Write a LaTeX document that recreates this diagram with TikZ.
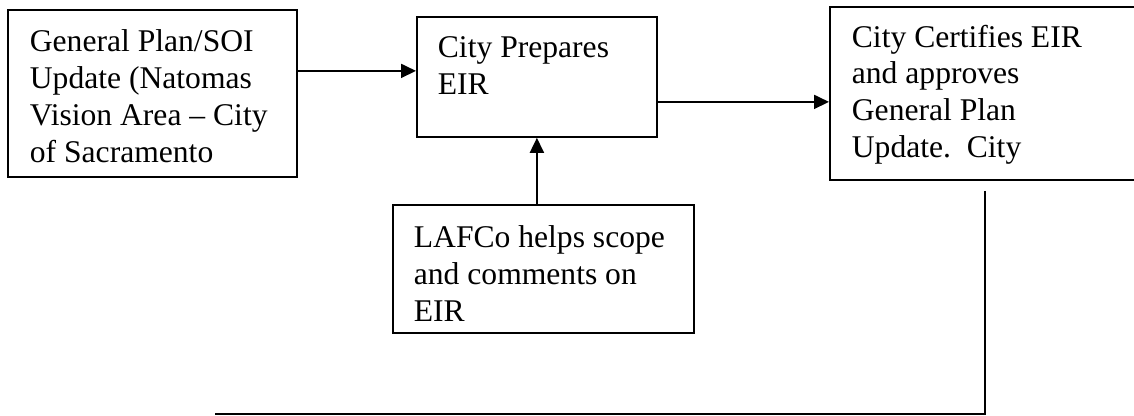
\documentclass[tikz,border=0pt]{standalone}
\usepackage{fontspec}
\setmainfont{Liberation Serif}
\usetikzlibrary{arrows.meta}

\begin{document}
\begin{tikzpicture}[x=0.5pt, y=-0.5pt]
  \tikzset{bx/.style={draw, line width=0.9pt, anchor=north west, inner xsep=10.5pt, font=\fontsize{15.8pt}{18.4pt}\selectfont},
    arr/.style={-{Triangle[length=7.5pt, width=7pt]}, line width=0.9pt}}
\clip (0,0) rectangle (1134,416);
\node[bx, inner xsep=11pt, inner ysep=10pt] (plan) at (7,9) {\parbox[t][63.5pt][t]{122.5pt}{General Plan/SOI\\Update (Natomas\\Vision Area -- City\\of Sacramento}};
\node[bx, inner ysep=10pt] (eir) at (416,16) {\parbox[t][40pt][t]{99pt}{City Prepares\\EIR}};
\node[bx, inner xsep=11pt, inner ysep=9pt] (cert) at (829,6) {\parbox[t][68.5pt][t]{133pt}{City Certifies EIR\\and approves\\General Plan\\Update.\ \ City}};
\node[bx, inner ysep=10.5pt] (lafco) at (392,204) {\parbox[t][43pt][t]{129.5pt}{LAFCo helps scope\\and comments on\\EIR}};
\draw[arr] ([yshift=11.25pt]plan.east) -- ([yshift=11.25pt]plan.east -| eir.west);
\draw[arr] ([yshift=-12.5pt]eir.east) -- ([yshift=-12.5pt]eir.east -| cert.west);
\draw[arr] (lafco.north -| eir.south) -- (eir.south);
% line back from the certified plan
\coordinate (stop) at (215,414);
\draw[line width=0.9pt] ([yshift=-5pt]cert.south) -- (cert.south |- stop) -- (stop);
\end{tikzpicture}
\end{document}
